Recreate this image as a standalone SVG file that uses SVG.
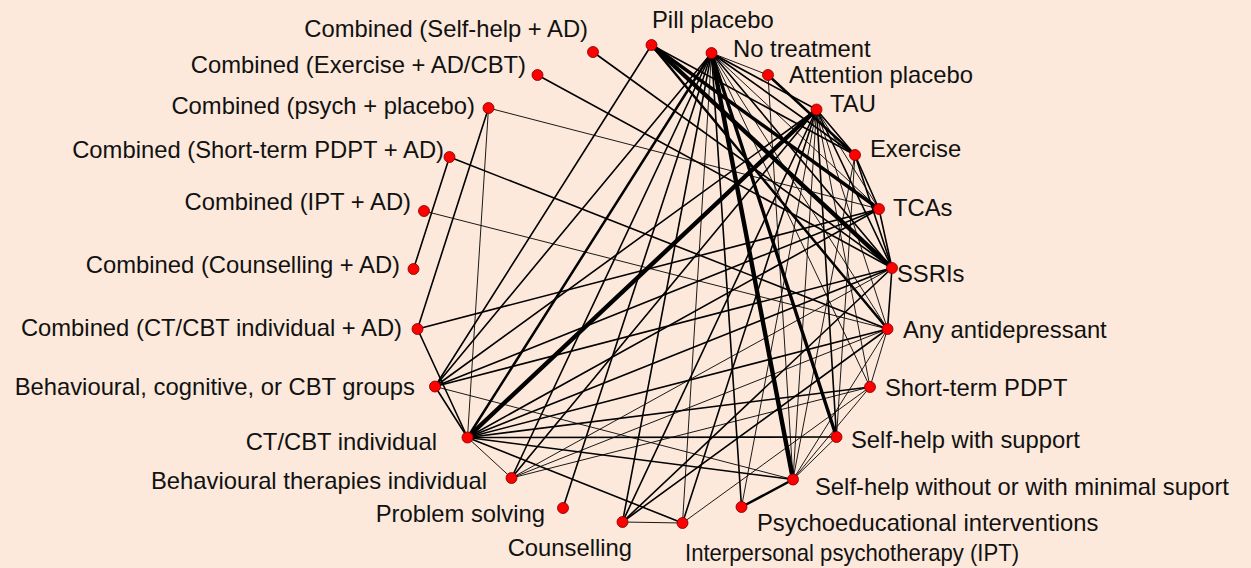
<svg xmlns="http://www.w3.org/2000/svg" width="1251" height="568" viewBox="0 0 1251 568">
<style>
text{font-family:"Liberation Sans",Arial,sans-serif;font-size:23.8px;fill:#111}
.e{text-anchor:end}
circle{fill:#ff0000;stroke:#7a0000;stroke-width:0.8}
line{stroke:#000;stroke-linecap:round}
.w1{stroke-width:0.9}.w2{stroke-width:1.6}.w3{stroke-width:2.5}.w4{stroke-width:3.4}.w5{stroke-width:4.4}
</style>
<rect width="1251" height="568" fill="#fce9db"/>
<g id="connectors">
<line class="w2" x1="593" y1="52" x2="892" y2="268"/>
<line class="w2" x1="537.5" y1="75" x2="892" y2="268"/>
<line class="w1" x1="488.5" y1="108" x2="879" y2="209"/>
<line class="w2" x1="488.5" y1="108" x2="417.5" y2="329"/>
<line class="w1" x1="488.5" y1="108" x2="467.5" y2="437.5"/>
<line class="w2" x1="449.5" y1="157" x2="413.5" y2="269"/>
<line class="w2" x1="449.5" y1="157" x2="887.5" y2="329"/>
<line class="w1" x1="424" y1="211" x2="887.5" y2="329"/>
<line class="w2" x1="417.5" y1="329" x2="879" y2="209"/>
<line class="w2" x1="417.5" y1="329" x2="467.5" y2="437.5"/>
<line class="w5" x1="651.5" y1="45" x2="892" y2="268"/>
<line class="w4" x1="651.5" y1="45" x2="879" y2="209"/>
<line class="w3" x1="651.5" y1="45" x2="887.5" y2="329"/>
<line class="w2" x1="651.5" y1="45" x2="435" y2="386.5"/>
<line class="w2" x1="651.5" y1="45" x2="855" y2="155"/>
<line class="w5" x1="711.5" y1="53" x2="793" y2="479.5"/>
<line class="w4" x1="711.5" y1="53" x2="836.5" y2="437"/>
<line class="w2" x1="711.5" y1="53" x2="816.5" y2="109.5"/>
<line class="w2" x1="711.5" y1="53" x2="855" y2="155"/>
<line class="w1" x1="711.5" y1="53" x2="879" y2="209"/>
<line class="w2" x1="711.5" y1="53" x2="892" y2="268"/>
<line class="w1" x1="711.5" y1="53" x2="768" y2="75"/>
<line class="w1" x1="711.5" y1="53" x2="887.5" y2="329"/>
<line class="w1" x1="711.5" y1="53" x2="870" y2="387"/>
<line class="w2" x1="711.5" y1="53" x2="741.5" y2="507"/>
<line class="w1" x1="711.5" y1="53" x2="682.5" y2="523"/>
<line class="w2" x1="711.5" y1="53" x2="622.5" y2="522"/>
<line class="w2" x1="711.5" y1="53" x2="563" y2="508"/>
<line class="w2" x1="711.5" y1="53" x2="511.5" y2="478"/>
<line class="w3" x1="711.5" y1="53" x2="467.5" y2="437.5"/>
<line class="w2" x1="711.5" y1="53" x2="435" y2="386.5"/>
<line class="w3" x1="768" y1="75" x2="855" y2="155"/>
<line class="w1" x1="768" y1="75" x2="793" y2="479.5"/>
<line class="w5" x1="816.5" y1="109.5" x2="467.5" y2="437.5"/>
<line class="w2" x1="816.5" y1="109.5" x2="855" y2="155"/>
<line class="w2" x1="816.5" y1="109.5" x2="892" y2="268"/>
<line class="w1" x1="816.5" y1="109.5" x2="879" y2="209"/>
<line class="w1" x1="816.5" y1="109.5" x2="887.5" y2="329"/>
<line class="w1" x1="816.5" y1="109.5" x2="870" y2="387"/>
<line class="w2" x1="816.5" y1="109.5" x2="836.5" y2="437"/>
<line class="w1" x1="816.5" y1="109.5" x2="793" y2="479.5"/>
<line class="w1" x1="816.5" y1="109.5" x2="741.5" y2="507"/>
<line class="w2" x1="816.5" y1="109.5" x2="682.5" y2="523"/>
<line class="w2" x1="816.5" y1="109.5" x2="622.5" y2="522"/>
<line class="w2" x1="816.5" y1="109.5" x2="511.5" y2="478"/>
<line class="w2" x1="816.5" y1="109.5" x2="435" y2="386.5"/>
<line class="w2" x1="855" y1="155" x2="879" y2="209"/>
<line class="w2" x1="855" y1="155" x2="892" y2="268"/>
<line class="w1" x1="855" y1="155" x2="836.5" y2="437"/>
<line class="w1" x1="855" y1="155" x2="793" y2="479.5"/>
<line class="w2" x1="879" y1="209" x2="892" y2="268"/>
<line class="w2" x1="879" y1="209" x2="467.5" y2="437.5"/>
<line class="w2" x1="879" y1="209" x2="435" y2="386.5"/>
<line class="w2" x1="892" y1="268" x2="887.5" y2="329"/>
<line class="w2" x1="892" y1="268" x2="467.5" y2="437.5"/>
<line class="w2" x1="892" y1="268" x2="435" y2="386.5"/>
<line class="w1" x1="892" y1="268" x2="511.5" y2="478"/>
<line class="w2" x1="892" y1="268" x2="622.5" y2="522"/>
<line class="w1" x1="887.5" y1="329" x2="870" y2="387"/>
<line class="w2" x1="887.5" y1="329" x2="467.5" y2="437.5"/>
<line class="w1" x1="887.5" y1="329" x2="511.5" y2="478"/>
<line class="w2" x1="887.5" y1="329" x2="622.5" y2="522"/>
<line class="w1" x1="887.5" y1="329" x2="793" y2="479.5"/>
<line class="w2" x1="870" y1="387" x2="467.5" y2="437.5"/>
<line class="w1" x1="870" y1="387" x2="511.5" y2="478"/>
<line class="w1" x1="870" y1="387" x2="793" y2="479.5"/>
<line class="w1" x1="870" y1="387" x2="682.5" y2="523"/>
<line class="w2" x1="836.5" y1="437" x2="467.5" y2="437.5"/>
<line class="w1" x1="836.5" y1="437" x2="793" y2="479.5"/>
<line class="w3" x1="793" y1="479.5" x2="741.5" y2="507"/>
<line class="w2" x1="793" y1="479.5" x2="467.5" y2="437.5"/>
<line class="w1" x1="793" y1="479.5" x2="435" y2="386.5"/>
<line class="w1" x1="682.5" y1="523" x2="622.5" y2="522"/>
<line class="w2" x1="682.5" y1="523" x2="467.5" y2="437.5"/>
<line class="w1" x1="511.5" y1="478" x2="467.5" y2="437.5"/>
<line class="w2" x1="435" y1="386.5" x2="467.5" y2="437.5"/>
</g>
<g id="n1"><circle cx="651.5" cy="45" r="5.5"/><text x="652" y="28">Pill placebo</text></g>
<g id="n2"><circle cx="711.5" cy="53" r="5.5"/><text x="733" y="57">No treatment</text></g>
<g id="n3"><circle cx="768" cy="75" r="5.5"/><text x="789" y="83">Attention placebo</text></g>
<g id="n4"><circle cx="816.5" cy="109.5" r="5.5"/><text x="830" y="112">TAU</text></g>
<g id="n5"><circle cx="855" cy="155" r="5.5"/><text x="870" y="157">Exercise</text></g>
<g id="n6"><circle cx="879" cy="209" r="5.5"/><text x="893" y="216">TCAs</text></g>
<g id="n7"><circle cx="892" cy="268" r="5.5"/><text x="897" y="282">SSRIs</text></g>
<g id="n8"><circle cx="887.5" cy="329" r="5.5"/><text x="903" y="338">Any antidepressant</text></g>
<g id="n9"><circle cx="870" cy="387" r="5.5"/><text x="885" y="396">Short-term PDPT</text></g>
<g id="n10"><circle cx="836.5" cy="437" r="5.5"/><text x="851" y="448">Self-help with support</text></g>
<g id="n11"><circle cx="793" cy="479.5" r="5.5"/><text x="815" y="495">Self-help without or with minimal suport</text></g>
<g id="n12"><circle cx="741.5" cy="507" r="5.5"/><text x="757" y="531">Psychoeducational interventions</text></g>
<g id="n13"><circle cx="682.5" cy="523" r="5.5"/><text x="685" y="561" textLength="334" lengthAdjust="spacingAndGlyphs">Interpersonal psychotherapy (IPT)</text></g>
<g id="n14"><circle cx="622.5" cy="522" r="5.5"/><text class="e" x="632" y="556">Counselling</text></g>
<g id="n15"><circle cx="563" cy="508" r="5.5"/><text class="e" x="545" y="522">Problem solving</text></g>
<g id="n16"><circle cx="511.5" cy="478" r="5.5"/><text class="e" x="487" y="489">Behavioural therapies individual</text></g>
<g id="n17"><circle cx="467.5" cy="437.5" r="5.5"/><text class="e" x="437" y="450">CT/CBT individual</text></g>
<g id="n18"><circle cx="435" cy="386.5" r="5.5"/><text class="e" x="415" y="395">Behavioural, cognitive, or CBT groups</text></g>
<g id="n19"><circle cx="417.5" cy="329" r="5.5"/><text class="e" x="402" y="336">Combined (CT/CBT individual + AD)</text></g>
<g id="n20"><circle cx="413.5" cy="269" r="5.5"/><text class="e" x="400" y="273">Combined (Counselling + AD)</text></g>
<g id="n21"><circle cx="424" cy="211" r="5.5"/><text class="e" x="411" y="210">Combined (IPT + AD)</text></g>
<g id="n22"><circle cx="449.5" cy="157" r="5.5"/><text class="e" x="444" y="158">Combined (Short-term PDPT + AD)</text></g>
<g id="n23"><circle cx="488.5" cy="108" r="5.5"/><text class="e" x="475" y="114">Combined (psych + placebo)</text></g>
<g id="n24"><circle cx="537.5" cy="75" r="5.5"/><text class="e" x="526" y="73">Combined (Exercise + AD/CBT)</text></g>
<g id="n25"><circle cx="593" cy="52" r="5.5"/><text class="e" x="588" y="37">Combined (Self-help + AD)</text></g>
</svg>
